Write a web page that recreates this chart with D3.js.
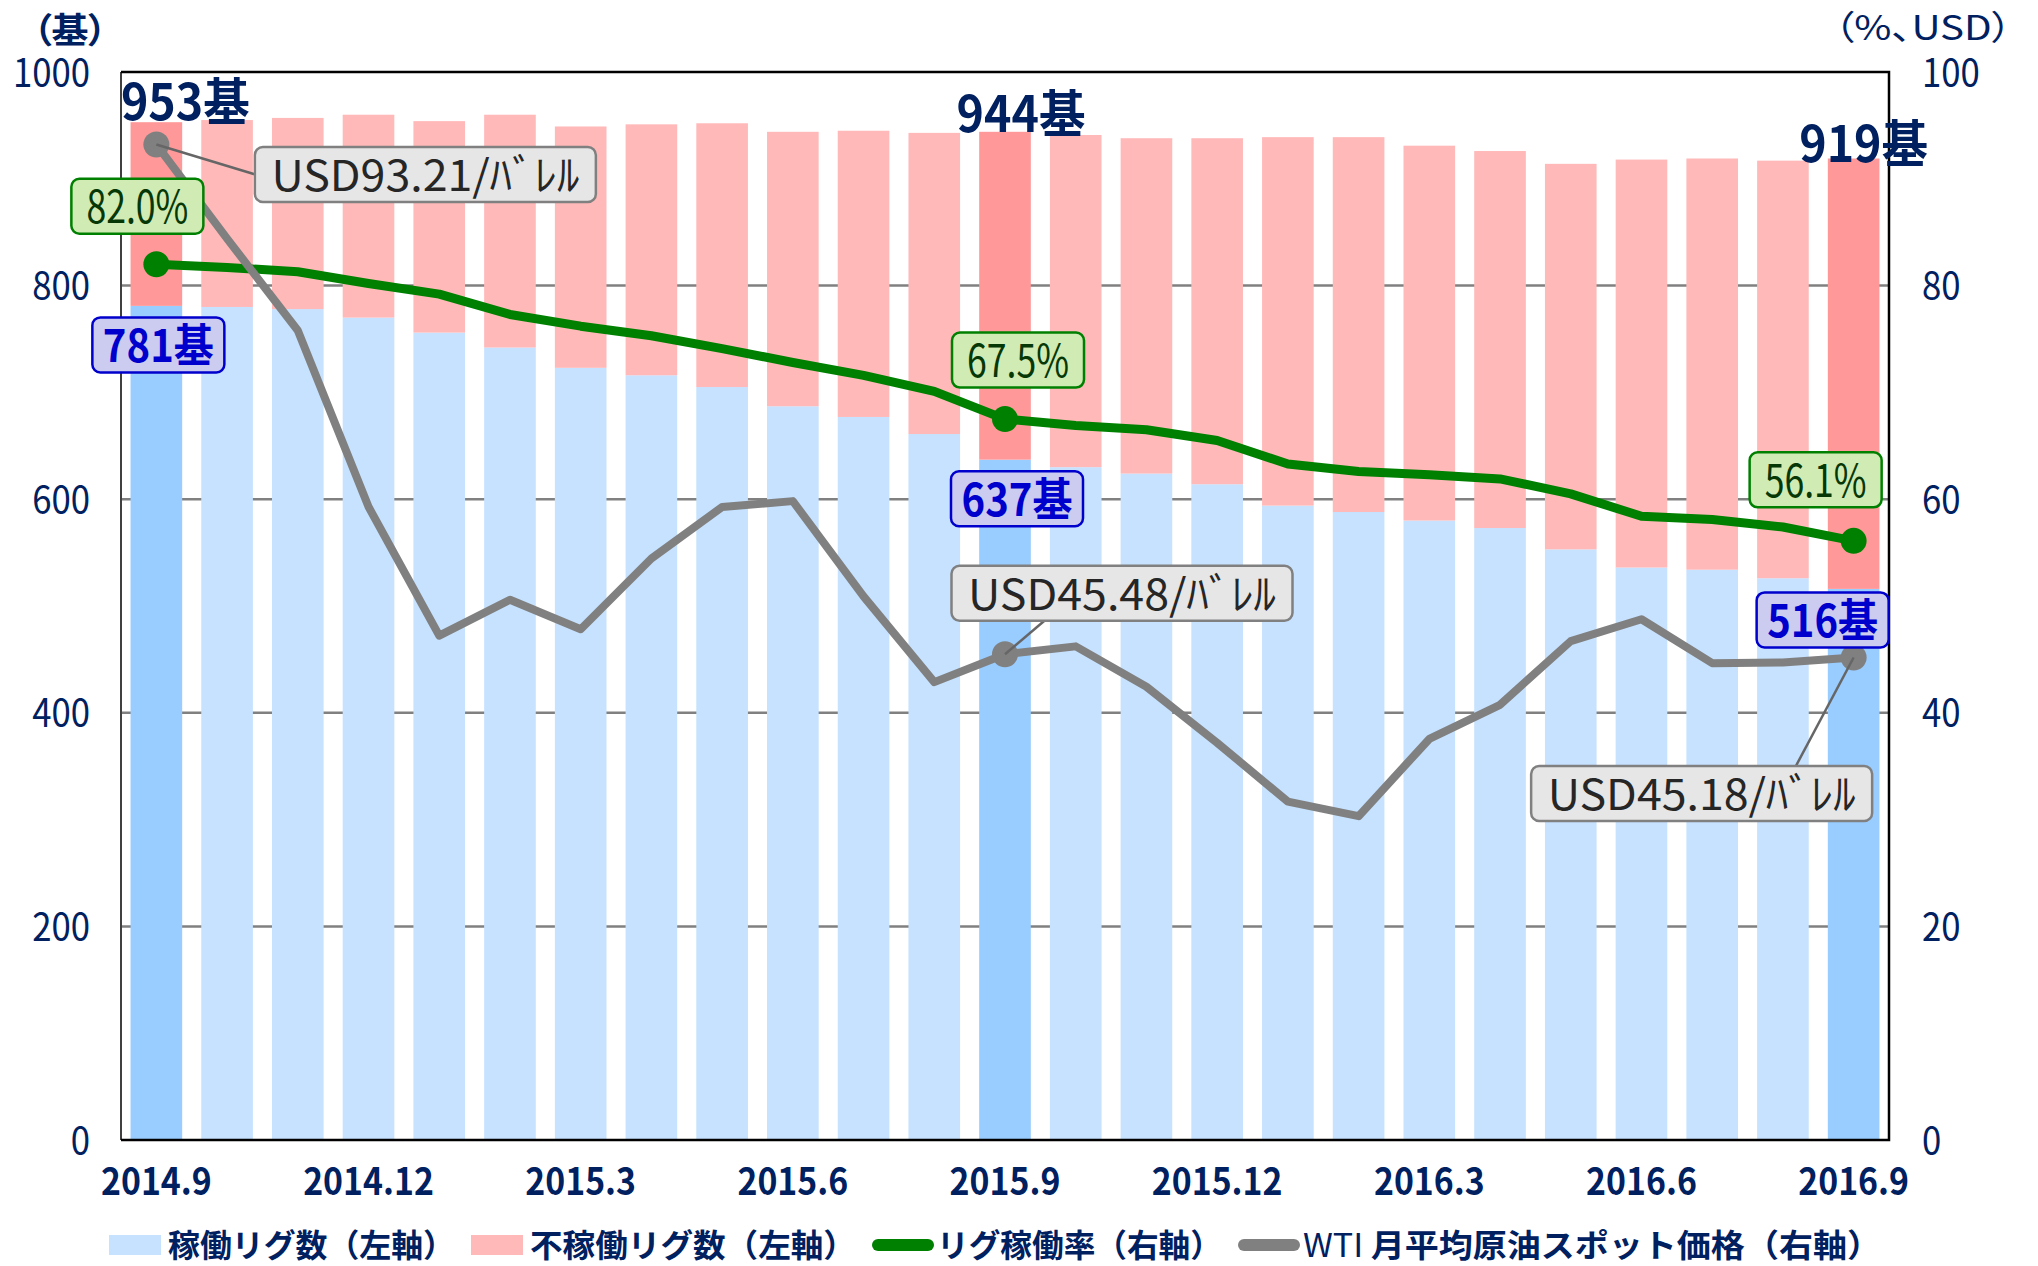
<!DOCTYPE html>
<html lang="ja">
<head>
<meta charset="utf-8">
<title>リグ稼働率とWTI原油価格</title>
<script src="https://cdn.jsdelivr.net/npm/d3@7"></script>
<style>
  html, body { margin: 0; padding: 0; background: #fff; }
  svg text { font-family: "Noto Sans CJK JP", "Noto Sans", sans-serif; }
  .palt { font-feature-settings: "palt"; }
</style>
</head>
<body>
<div id="graph"></div>
<script>
// ---- data ----
var months = ["2014.9","2014.10","2014.11","2014.12","2015.1","2015.2","2015.3","2015.4","2015.5",
  "2015.6","2015.7","2015.8","2015.9","2015.10","2015.11","2015.12","2016.1","2016.2","2016.3",
  "2016.4","2016.5","2016.6","2016.7","2016.8","2016.9"];
var activeRigs = [781, 780, 778, 770, 756, 742, 723, 716, 705, 687, 677, 661, 637,
  630, 624, 614, 594, 588, 580, 573, 553, 536, 534, 526, 516];
var idleRigs = [172, 175, 179, 190, 198, 218, 226, 235, 247, 257, 268, 282, 307,
  311, 314, 324, 345, 351, 351, 353, 361, 382, 385, 391, 403];
var utilRate = [82.0, 81.7, 81.3, 80.2, 79.2, 77.3, 76.2, 75.3, 74.1, 72.8, 71.6, 70.1, 67.5,
  66.9, 66.5, 65.5, 63.3, 62.6, 62.3, 61.9, 60.5, 58.4, 58.1, 57.4, 56.1];
var wtiPrice = [93.21, 84.40, 75.79, 59.29, 47.22, 50.58, 47.82, 54.45, 59.27, 59.82, 50.90, 42.87, 45.48,
  46.22, 42.44, 37.19, 31.68, 30.32, 37.55, 40.75, 46.71, 48.76, 44.65, 44.72, 45.18];
var leftTicks = [0, 200, 400, 600, 800, 1000];
var rightTicks = [0, 20, 40, 60, 80, 100];
var xTickLabels = ["2014.9","2014.12","2015.3","2015.6","2015.9","2015.12","2016.3","2016.6","2016.9"];
var highlight = ["2014.9","2015.9","2016.9"];
var legendLabels = ["稼働リグ数（左軸）","不稼働リグ数（左軸）","リグ稼働率（右軸）","月平均原油スポット価格（右軸）"];

// ---- layout ----
var W = 2038, H = 1266;
var margin = {top: 72, right: 149, bottom: 126, left: 121},
    width = W - margin.left - margin.right,
    height = H - margin.top - margin.bottom;
var navy = "#002060";

var svg = d3.select("#graph").append("svg")
    .attr("width", W)
    .attr("height", H);
var g = svg.append("g")
    .attr("transform", "translate(" + margin.left + "," + margin.top + ")");

var x = d3.scaleBand().domain(months).range([0, width]).paddingInner(0.27).paddingOuter(0.135);
var yL = d3.scaleLinear().domain([0, 1000]).range([height, 0]);
var yR = d3.scaleLinear().domain([0, 100]).range([height, 0]);
var cx = function(m) { return x(m) + x.bandwidth() / 2; };

// text helper: condensed look via horizontal scale, optionally fitted to a width
function putText(parent, px, py, txt, o) {
  var t = parent.append("text")
      .attr("font-size", o.size)
      .attr("font-weight", o.weight || "normal")
      .attr("fill", o.color)
      .attr("text-anchor", o.anchor || "middle")
      .attr("dy", o.dy == null ? "0.36em" : o.dy)
      .classed("palt", !!o.palt)
      .text(txt);
  var k = o.width ? o.width / t.node().getComputedTextLength() : (o.sx || 1);
  t.attr("transform", "translate(" + px + "," + py + ") scale(" + k + ",1)");
  return t;
}

// gridlines
g.append("g").selectAll("line")
  .data(leftTicks.filter(function(v) { return v > 0 && v < 1000; }))
  .enter().append("line")
    .attr("x1", 0).attr("x2", width)
    .attr("y1", yL).attr("y2", yL)
    .attr("stroke", "#808080").attr("stroke-width", 2.5);

// stacked bars
var rows = months.map(function(m, i) {
  return {m: m, active: activeRigs[i], idle: idleRigs[i], hi: highlight.indexOf(m) >= 0};
});
var layers = d3.stack().keys(["active", "idle"])(rows);
var barColors = {active: ["#c6e2ff", "#99ccff"], idle: ["#ffb9b9", "#ff9999"]};
g.append("g").selectAll("g").data(layers).enter().append("g")
  .each(function(layer) {
    d3.select(this).selectAll("rect").data(layer).enter().append("rect")
      .attr("x", function(d) { return x(d.data.m); })
      .attr("width", x.bandwidth())
      .attr("y", function(d) { return yL(d[1]); })
      .attr("height", function(d) { return yL(d[0]) - yL(d[1]); })
      .attr("fill", function(d) { return barColors[layer.key][d.data.hi ? 1 : 0]; });
  });

// frame
g.append("line").attr("x1", 0).attr("x2", 0).attr("y1", 0).attr("y2", height)
  .attr("stroke", "#404040").attr("stroke-width", 2);
g.append("path").attr("d", "M0,0H" + width + "V" + height + "H0")
  .attr("fill", "none").attr("stroke", "#000").attr("stroke-width", 2.5);

// axes
var tickSx = 0.89;
var axL = g.append("g").call(d3.axisLeft(yL).tickValues(leftTicks).tickFormat(d3.format("d")).tickSize(0));
var axR = g.append("g").attr("transform", "translate(" + width + ",0)")
    .call(d3.axisRight(yR).tickValues(rightTicks).tickFormat(d3.format("d")).tickSize(0));
var axB = g.append("g").attr("transform", "translate(0," + height + ")")
    .call(d3.axisBottom(x).tickValues(xTickLabels).tickSize(0));
[axL, axR, axB].forEach(function(a) {
  a.attr("font-size", null).attr("font-family", null);
  a.select(".domain").remove();
  a.selectAll("text").attr("fill", navy).attr("font-size", 39).attr("dy", "0.36em");
});
axL.selectAll("text").attr("x", -31 / tickSx).attr("transform", "scale(" + tickSx + ",1)");
axR.selectAll("text").attr("x", 33 / tickSx).attr("transform", "scale(" + tickSx + ",1)");
axB.selectAll("text").attr("y", 41).attr("font-size", 38).attr("font-weight", "bold")
  .attr("transform", "scale(" + tickSx + ",1)");

// axis units
putText(svg, 70, 30, "（基）", {size: 35, weight: "bold", color: navy, width: 74, palt: true});
putText(svg, 1923, 28, "（%、USD）", {size: 34, color: navy, width: 178, palt: true});

// lines
var line = d3.line()
    .x(function(d, i) { return cx(months[i]); })
    .y(function(d) { return yR(d); });
g.append("path").datum(utilRate).attr("d", line)
  .attr("fill", "none").attr("stroke", "#008000").attr("stroke-width", 9).attr("stroke-linejoin", "round");
g.append("path").datum(wtiPrice).attr("d", line)
  .attr("fill", "none").attr("stroke", "#808080").attr("stroke-width", 8).attr("stroke-linejoin", "round");

var hiIdx = highlight.map(function(m) { return months.indexOf(m); });
g.append("g").selectAll("circle").data(hiIdx).enter().append("circle")
  .attr("cx", function(i) { return cx(months[i]); })
  .attr("cy", function(i) { return yR(utilRate[i]); })
  .attr("r", 13).attr("fill", "#008000");
g.append("g").selectAll("circle").data(hiIdx).enter().append("circle")
  .attr("cx", function(i) { return cx(months[i]); })
  .attr("cy", function(i) { return yR(wtiPrice[i]); })
  .attr("r", 13).attr("fill", "#808080");

// annotations (offsets from the data point)
var totalNotes = [{i: 0, dx: 29, dy: -2}, {i: 12, dx: 16, dy: 0}, {i: 24, dx: 10, dy: 3}];
var activeNotes = [{i: 0, dx: 2, dy: 39}, {i: 12, dx: 12, dy: 39}, {i: 24, dx: -31, dy: 31}];
var rateNotes = [{i: 0, dx: -19, dy: -58}, {i: 12, dx: 13, dy: -59}, {i: 24, dx: -38, dy: -61}];
var wtiNotes = [{i: 0, dx: 269, dy: 30, ax: -170, ay: 0},
                {i: 12, dx: 117, dy: -61, ax: -77, ay: 27},
                {i: 24, dx: -152, dy: 136, ax: 94, ay: -27}];

function noteBox(px, py, n, bw, txt, st) {
  var bx = px + n.dx, by = py + n.dy;
  if (n.ax != null) {
    g.append("line").attr("x1", px).attr("y1", py).attr("x2", bx + n.ax).attr("y2", by + n.ay)
      .attr("stroke", "#666").attr("stroke-width", 2.5);
  }
  g.append("rect").attr("x", bx - bw / 2).attr("y", by - 27.5).attr("width", bw).attr("height", 55)
    .attr("rx", 8).attr("fill", st.fill).attr("stroke", st.stroke).attr("stroke-width", 2.5);
  putText(g, bx, by + 1, txt, {size: st.size, weight: st.weight, color: st.color, width: st.textW});
}

totalNotes.forEach(function(n) {
  var tot = activeRigs[n.i] + idleRigs[n.i];
  putText(g, cx(months[n.i]) + n.dx, yL(tot) + n.dy, tot + "基",
    {size: 50, weight: "bold", color: navy, dy: "0", width: 129});
});
activeNotes.forEach(function(n) {
  noteBox(cx(months[n.i]), yL(activeRigs[n.i]), n, 132, activeRigs[n.i] + "基",
    {fill: "#ccccf0", stroke: "#0000cc", color: "#0000cc", size: 45, weight: "bold", textW: 111});
});
rateNotes.forEach(function(n) {
  noteBox(cx(months[n.i]), yR(utilRate[n.i]), n, 132, utilRate[n.i].toFixed(1) + "%",
    {fill: "#d0ebb4", stroke: "#008000", color: "#063806", size: 45, weight: "normal", textW: 102});
});
wtiNotes.forEach(function(n) {
  noteBox(cx(months[n.i]), yR(wtiPrice[n.i]), n, 341, "USD" + wtiPrice[n.i].toFixed(2) + "/ﾊﾞﾚﾙ",
    {fill: "#e6e6e6", stroke: "#808080", color: "#262626", size: 43, weight: "normal", textW: 308});
});

// legend
var legendY = 1245;
var legendTextW = [287, 326, 285, 578];
var lg = svg.append("g");
var lx = 109;
legendLabels.forEach(function(lbl, i) {
  if (i < 2) {
    lg.append("rect").attr("x", lx).attr("y", legendY - 10).attr("width", 52).attr("height", 20)
      .attr("fill", i === 0 ? "#c6e2ff" : "#ffb9b9");
    lx += 59;
  } else {
    lg.append("line").attr("x1", lx + 6).attr("x2", lx + 56).attr("y1", legendY).attr("y2", legendY)
      .attr("stroke", i === 2 ? "#008000" : "#808080").attr("stroke-width", 12).attr("stroke-linecap", "round");
    lx += 65;
  }
  var t = lg.append("text").attr("font-size", 32).attr("font-weight", "bold").attr("fill", navy)
    .attr("dy", "0.36em");
  if (i === 3) {
    t.append("tspan").attr("font-weight", "normal").text("WTI ");
  }
  t.append("tspan").text(lbl);
  var k = legendTextW[i] / t.node().getComputedTextLength();
  t.attr("transform", "translate(" + lx + "," + legendY + ") scale(" + k + ",1)");
  lx += legendTextW[i] + 16;
});
</script>
</body>
</html>
